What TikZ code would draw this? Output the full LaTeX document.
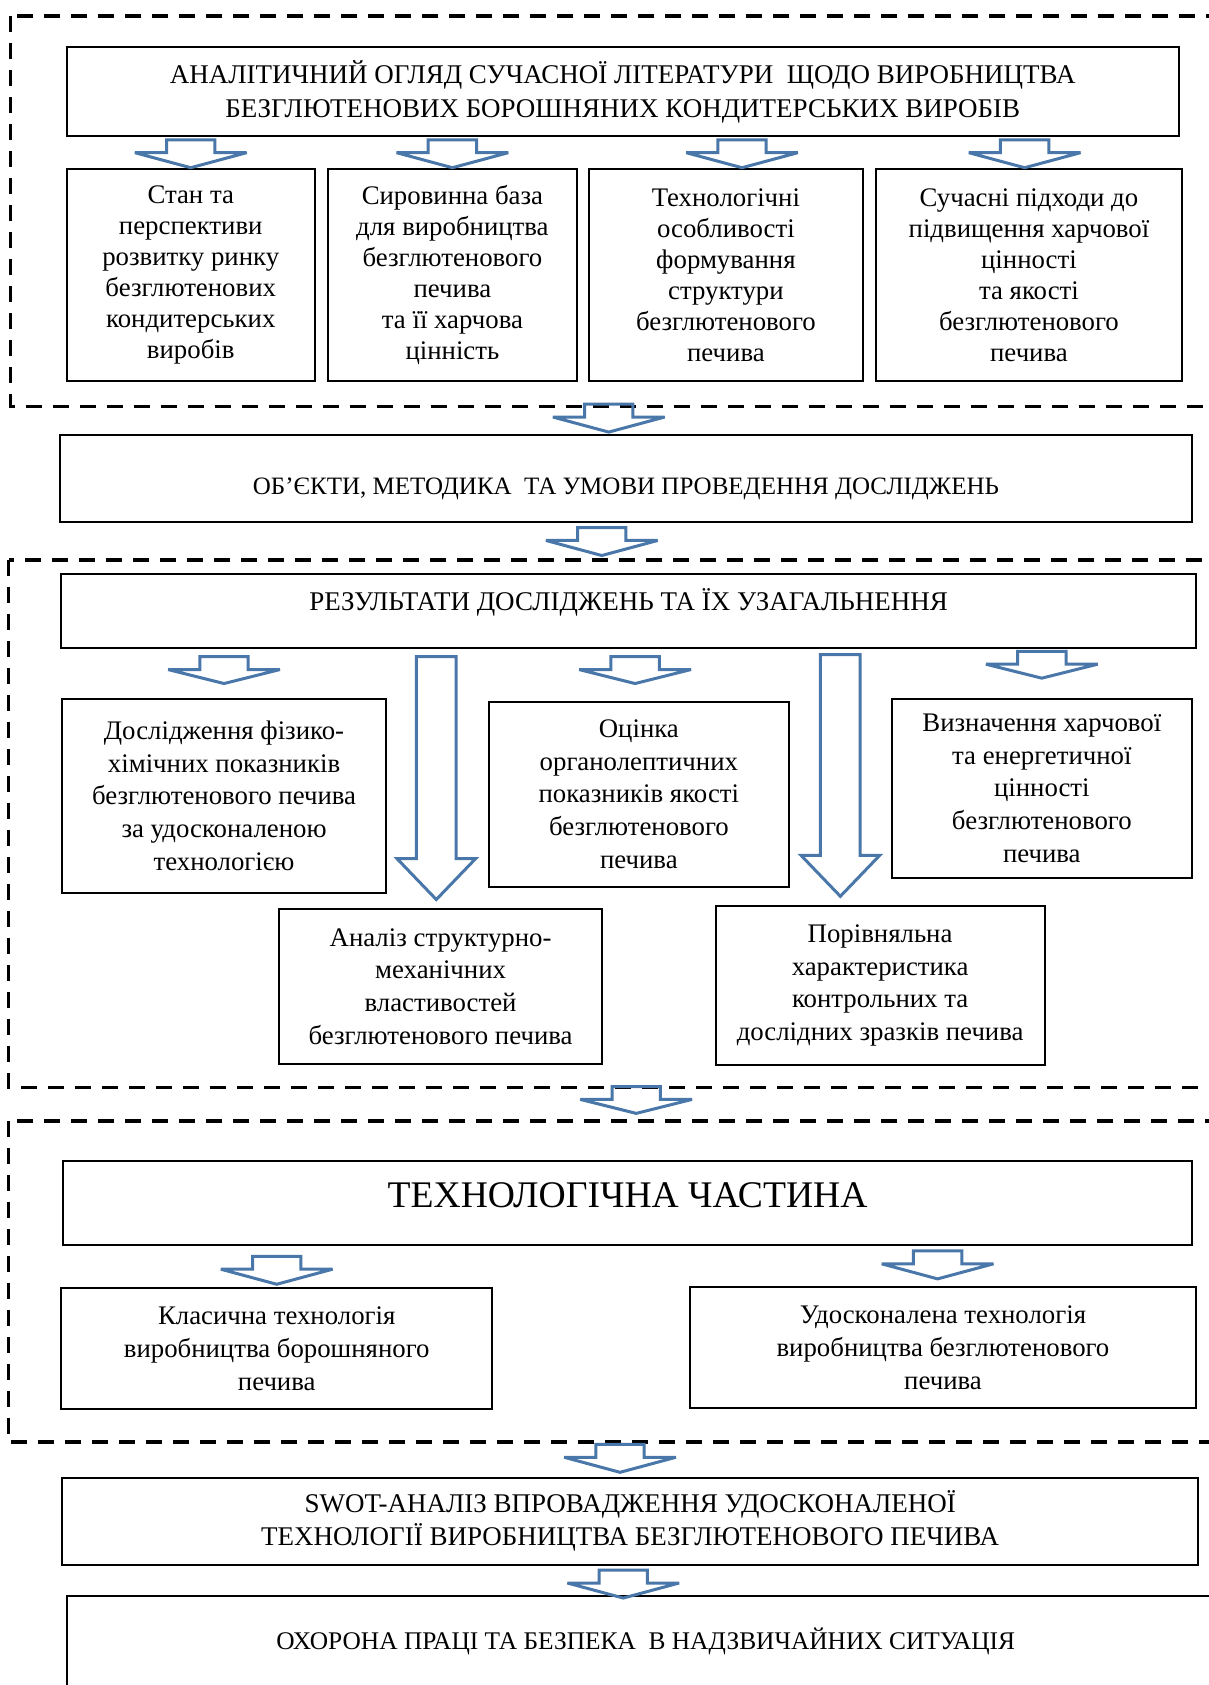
\documentclass[tikz,border=0pt]{standalone}
\usepackage{fontspec}
\setmainfont{Liberation Serif}
\usetikzlibrary{calc}
\definecolor{arrowblue}{HTML}{4A77A9}

\tikzset{
  box/.style={draw, line width=1pt, align=center, inner sep=0pt},
  sz/.style n args={2}{minimum width=#1*0.5373pt, minimum height=#2*0.5373pt},
  frame/.style={line width=1.7pt, dash pattern=on 8pt off 5.5pt},
  pics/dnarrow/.style n args={4}{code={
    \draw[arrowblue, line width=1.5pt, miter limit=4] (0,0) -- (-#2/2,-#4) -- (-#3/2,-#4)
      -- (-#3/2,-#1) -- (#3/2,-#1) -- (#3/2,-#4) -- (#2/2,-#4) -- cycle;
  }},
}
\newcommand\fsmall{\fontsize{13.5}{16.7}\selectfont}
\newcommand\ftext{\fontsize{13.4}{15.5}\selectfont}
\newcommand\ftextb{\fontsize{13.4}{16.4}\selectfont}

\begin{document}
\begin{tikzpicture}[x=0.5373pt, y=-0.5373pt]
  \useasboundingbox (0,0) rectangle (1125,1568);
  \clip (0,0) rectangle (1125,1568);

  % literature review
  \node[box, sz={1035}{83}, font=\fsmall] (top) at (579.5,85.5)
    {АНАЛІТИЧНИЙ ОГЛЯД СУЧАСНОЇ ЛІТЕРАТУРИ\ \ ЩОДО ВИРОБНИЦТВА\\
     БЕЗГЛЮТЕНОВИХ БОРОШНЯНИХ КОНДИТЕРСЬКИХ ВИРОБІВ};
  \node[box, sz={231}{198}, font=\ftext] (b1) at (177.5,256)
    {Стан та\\перспективи\\розвитку ринку\\безглютенових\\кондитерських\\виробів};
  \node[box, sz={232}{198}, font=\ftext] (b2) at (421,256)
    {Сировинна база\\для виробництва\\безглютенового\\печива\\та її харчова\\цінність};
  \node[box, sz={255}{198}, font=\ftext] (b3) at (675.5,256)
    {Технологічні\\особливості\\формування\\структури\\безглютенового\\печива};
  \node[box, sz={285}{198}, font=\ftext] (b4) at (957.5,256)
    {Сучасні підходи до\\підвищення харчової\\цінності\\та якості\\безглютенового\\печива};

  \node[box, sz={1053}{81}, font=\fontsize{12.5}{15}\selectfont, text height=16pt,
    text depth=0pt] (obj) at (582.5,445.5)
    {ОБ’ЄКТИ, МЕТОДИКА\ \ ТА УМОВИ ПРОВЕДЕННЯ ДОСЛІДЖЕНЬ};

  % results
  \node[box, sz={1056}{69}, font=\fsmall, text height=8.9pt, text depth=9.5pt] (res)
    at (585,568.5) {РЕЗУЛЬТАТИ ДОСЛІДЖЕНЬ ТА ЇХ УЗАГАЛЬНЕННЯ};
  \node[box, sz={301}{181}, font=\ftextb] (d1) at (208.5,740.5)
    {Дослідження фізико-\\хімічних показників\\безглютенового печива\\за удосконаленою\\технологією};
  \node[box, sz={279}{172}, font=\ftextb] (d2) at (594.5,739)
    {Оцінка\\органолептичних\\показників якості\\безглютенового\\печива};
  \node[box, sz={279}{167}, font=\ftextb] (d3) at (969.5,733.5)
    {Визначення харчової\\та енергетичної\\цінності\\безглютенового\\печива};
  \node[box, sz={300}{144}, font=\ftextb] (d4) at (410,918)
    {Аналіз структурно-\\механічних\\властивостей\\безглютенового печива};
  \node[box, sz={306}{148}, font=\ftextb] (d5) at (819,917)
    {Порівняльна\\характеристика\\контрольних та\\дослідних зразків печива};

  % technology
  \node[box, sz={1050}{79}, font=\fontsize{18.8}{22}\selectfont, text height=12.4pt,
    text depth=8pt] (tech) at (584,1119.5) {ТЕХНОЛОГІЧНА ЧАСТИНА};
  \node[box, sz={401}{112}, font=\ftextb] (t1) at (257.5,1255)
    {Класична технологія\\виробництва борошняного\\печива};
  \node[box, sz={471}{112}, font=\ftextb] (t2) at (877.5,1254)
    {Удосконалена технологія\\виробництва безглютенового\\печива};

  \node[box, sz={1057}{81}, font=\fsmall] (swot) at (586.5,1415.5)
    {SWOT-АНАЛІЗ ВПРОВАДЖЕННЯ УДОСКОНАЛЕНОЇ\\
     ТЕХНОЛОГІЇ ВИРОБНИЦТВА БЕЗГЛЮТЕНОВОГО ПЕЧИВА};
  \node[box, sz={1078}{115}, font=\fontsize{12.7}{15}\selectfont, text height=8.4pt,
    text depth=16.6pt] (ohor) at (601,1542.5)
    {ОХОРОНА ПРАЦІ ТА БЕЗПЕКА\ \ В НАДЗВИЧАЙНИХ СИТУАЦІЯ};

  % dashed groups
  \draw[frame] (10,15) rectangle (1140,378);
  \draw[frame] (8,521) rectangle (1140,1012);
  \draw[frame] (8,1043) rectangle (1140,1342);

  % block arrows
  \pic at (b1.north) {dnarrow={26}{104}{45}{14}};
  \pic at (b2.north) {dnarrow={26}{104}{45}{14}};
  \pic at ($(b3.north)+(15,0)$) {dnarrow={26}{104}{45}{14}};
  \pic at ($(b4.north)+(-4,0)$) {dnarrow={26}{104}{45}{14}};
  \pic at ($(obj.north)+(-16,-2)$) {dnarrow={26}{104}{45}{14}};
  \pic at ($(obj.south)+(-22.5,30)$) {dnarrow={26}{104}{45}{14}};
  \pic at ($(d1.north)+(0,-13)$) {dnarrow={25}{104}{45}{13}};
  \pic at ($(d2.north)+(-3.5,-16)$) {dnarrow={25}{104}{45}{13}};
  \pic at ($(d3.north)+(0,-18)$) {dnarrow={25}{104}{45}{13}};
  \pic at ($(d4.north)+(-4,-8)$) {dnarrow={226}{73}{37}{38}};
  \pic at ($(d5.north)+(-37,-8)$) {dnarrow={225}{73}{37}{38}};
  \pic at ($(tech.north)+(8,-43)$) {dnarrow={25}{104}{45}{13}};
  \pic at ($(t1.north)+(0,-3)$) {dnarrow={26}{104}{45}{14}};
  \pic at ($(t2.north)+(-5,-7)$) {dnarrow={26}{104}{45}{14}};
  \pic at ($(swot.north)+(-9.5,-4)$) {dnarrow={26}{104}{45}{14}};
  \pic at ($(ohor.north)+(-21,3)$) {dnarrow={26}{104}{45}{14}};
\end{tikzpicture}
\end{document}
